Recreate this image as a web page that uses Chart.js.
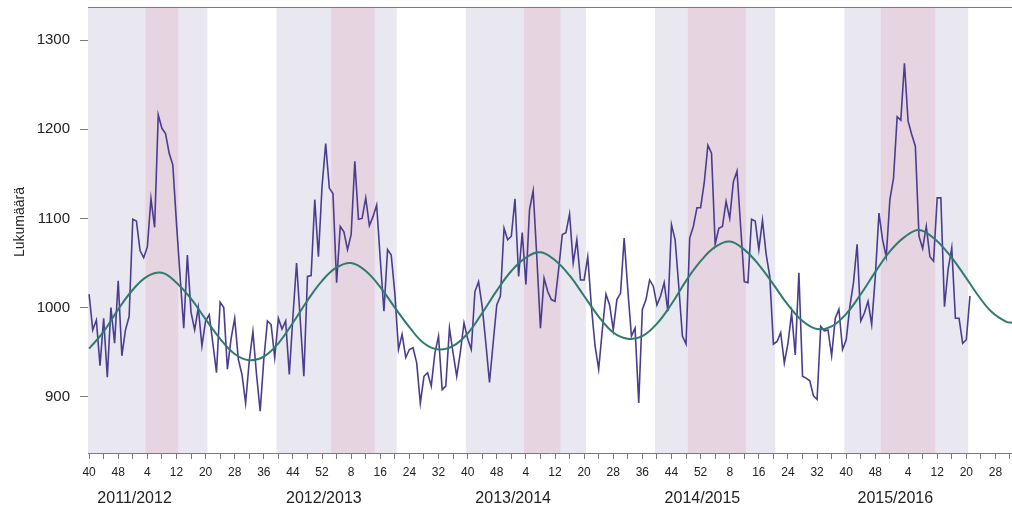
<!DOCTYPE html>
<html>
<head>
<meta charset="utf-8">
<script src="https://cdn.jsdelivr.net/npm/chart.js@4/dist/chart.umd.min.js"></script>
<style>
  html, body { margin: 0; padding: 0; background: #ffffff; }
  #wrap { width: 1012px; height: 513px; }
</style>
</head>
<body>
<div id="wrap"><canvas id="chart" width="1012" height="513"></canvas></div>
<script>
// Weekly death counts, one array per season (week 40 to week 39 of the next year)
const deaths2011_12 = [1015, 975, 986, 935, 988, 922, 1000, 960, 1030, 946, 975, 990, 1099, 1097, 1064, 1056,
  1068, 1122, 1090, 1216, 1201, 1195, 1173, 1160, 1095, 1035, 977, 1059, 995, 975, 1000, 957, 985, 992, 960,
  927, 1006, 1000, 931, 965, 988, 942, 925, 893, 940, 973, 925, 884, 942, 985, 981, 944];
const deaths2012_13 = [988, 976, 985, 925, 990, 1050, 987, 923, 1035, 1036, 1121, 1057, 1136, 1184, 1134, 1128,
  1028, 1091, 1085, 1065, 1082, 1164, 1099, 1100, 1123, 1092, 1102, 1115, 1054, 996, 1065, 1059, 1016, 953, 970,
  944, 953, 955, 938, 893, 923, 927, 912, 949, 968, 908, 912, 977, 949, 923, 950, 983];
const deaths2013_14 = [965, 953, 1018, 1029, 1001, 960, 916, 960, 1003, 1013, 1089, 1076, 1080, 1122, 1035, 1084,
  1026, 1110, 1131, 1057, 977, 1033, 1018, 1009, 1007, 1043, 1082, 1084, 1105, 1050, 1076, 1031, 1031, 1057, 1001,
  957, 931, 975, 1015, 1003, 975, 1009, 1016, 1078, 1020, 968, 977, 893, 998, 1009, 1031, 1024];
const deaths2014_15 = [1003, 1013, 1028, 996, 1093, 1076, 1024, 968, 959, 1078, 1091, 1112, 1112, 1140, 1182, 1173,
  1071, 1089, 1091, 1119, 1100, 1141, 1153, 1091, 1029, 1028, 1099, 1097, 1065, 1098, 1060, 1035, 959, 962, 972,
  938, 960, 994, 947, 1039, 923, 921, 918, 901, 897, 979, 974, 975, 946, 988, 998, 953];
const deaths2015_16 = [964, 1001, 1028, 1071, 985, 994, 1007, 981, 1035, 1106, 1076, 1057, 1121, 1145, 1214, 1210,
  1274, 1209, 1194, 1181, 1080, 1066, 1091, 1057, 1052, 1123, 1123, 1001, 1043, 1067, 988, 988, 960, 964, 1013];

// Expected level (seasonal model), read every four weeks from the start of the series
const expectedWeek = [0, 4, 8, 12, 16, 20, 24, 28, 32, 36, 40, 44, 48, 52, 56, 60, 64, 68, 72, 76, 80, 84, 88, 92,
  96, 100, 104, 108, 112, 116, 120, 124, 128, 132, 136, 140, 144, 148, 152, 156, 160, 164, 168, 172, 176, 180,
  184, 188, 192, 196, 200, 204, 208, 212, 216, 220, 224, 228, 232, 236, 240, 244, 248, 252, 253.6];
const expectedValue = [954, 973, 998, 1020, 1035, 1039, 1028, 1010, 987, 965, 948, 941, 945, 960, 983, 1008, 1030,
  1045, 1050, 1041, 1023, 1000, 978, 960, 953, 957, 971, 994, 1019, 1041, 1056, 1062, 1053, 1036, 1013, 990, 972,
  965, 968, 982, 1004, 1030, 1052, 1068, 1074, 1065, 1048, 1026, 1003, 985, 976, 979, 993, 1015, 1040, 1063, 1079,
  1087, 1078, 1061, 1039, 1015, 995, 984, 983];

const seasonLabels = ['2011/2012', '2012/2013', '2013/2014', '2014/2015', '2015/2016'];
// Epidemic periods per season: [year, week] start and end
const epidemicPeriods = [
  [[2012, 4], [2012, 12]],
  [[2013, 3], [2013, 14]],
  [[2014, 4], [2014, 13]],
  [[2014, 49], [2015, 12]],
  [[2015, 50], [2016, 11]]
];
const seasonStartWeek = 40;
const seasonEndWeek = 20;
const yTickValues = [900, 1000, 1100, 1200, 1300];

const firstYear = 2011;
const firstWeek = 40;
const weeksInYear = { 2011: 52, 2012: 52, 2013: 52, 2014: 52, 2015: 53, 2016: 52, 2017: 52 };

function weekIndex(year, week) {
  let i = 0;
  for (let y = firstYear; y < year; y++) i += weeksInYear[y];
  return i + week - firstWeek;
}
function weekNumber(index) {
  let year = firstYear, week = firstWeek + index;
  while (week > weeksInYear[year]) { week -= weeksInYear[year]; year++; }
  return week;
}

const deaths = [].concat(deaths2011_12, deaths2012_13, deaths2013_14, deaths2014_15, deaths2015_16);
const deathPoints = deaths.map((v, i) => ({ x: i, y: v }));
const expectedPoints = expectedWeek.map((w, i) => ({ x: w, y: expectedValue[i] }));

const X_MIN = -0.3, X_MAX = 253.55;
const tickIndices = [];
for (let i = 0; i <= Math.floor(X_MAX); i++) if (weekNumber(i) % 4 === 0) tickIndices.push(i);

const FONT = "'Liberation Sans', Arial, Helvetica, sans-serif";
const FRAME = '#7a7a7a';

// Shaded season and epidemic periods behind the lines, plus season names under the axis
const bandsPlugin = {
  id: 'bands',
  beforeDatasetsDraw(chart) {
    const { ctx, chartArea: a, scales: { x } } = chart;
    ctx.save();
    ctx.beginPath();
    ctx.rect(a.left, a.top, a.right - a.left, a.bottom - a.top);
    ctx.clip();
    seasonLabels.forEach((_, k) => {
      const y0 = firstYear + k;
      const s = x.getPixelForValue(weekIndex(y0, seasonStartWeek) - 0.5);
      const e = x.getPixelForValue(weekIndex(y0 + 1, seasonEndWeek) + 0.5);
      ctx.fillStyle = '#e9e8f1';
      ctx.fillRect(s, a.top, e - s, a.bottom - a.top);
    });
    epidemicPeriods.forEach(([from, to]) => {
      const s = x.getPixelForValue(weekIndex(from[0], from[1]) - 0.5);
      const e = x.getPixelForValue(weekIndex(to[0], to[1]) + 0.5);
      ctx.fillStyle = '#e7d4e1';
      ctx.fillRect(s, a.top, e - s, a.bottom - a.top);
    });
    ctx.restore();
  },
  afterDraw(chart) {
    const { ctx, chartArea: a, scales: { x } } = chart;
    ctx.save();
    ctx.strokeStyle = FRAME;
    ctx.lineWidth = 1;
    ctx.beginPath();
    ctx.moveTo(a.left, a.top + 0.5);
    ctx.lineTo(a.right, a.top + 0.5);
    ctx.stroke();
    ctx.fillStyle = '#222';
    ctx.font = '16px ' + FONT;
    ctx.textAlign = 'center';
    ctx.textBaseline = 'middle';
    seasonLabels.forEach((label, k) => {
      const cx = x.getPixelForValue(weekIndex(firstYear + k + 1, 1) - 0.5);
      ctx.fillText(label, cx, 499);
    });
    ctx.translate(20, 222);
    ctx.rotate(-Math.PI / 2);
    ctx.font = '14px ' + FONT;
    ctx.fillText('Lukumäärä', 0, 0);
    ctx.restore();
  }
};

new Chart(document.getElementById('chart'), {
  type: 'line',
  data: {
    datasets: [
      {
        label: 'Odotettu',
        data: expectedPoints,
        borderColor: '#2f7b70',
        borderWidth: 2,
        pointRadius: 0,
        tension: 0.4,
        fill: false
      },
      {
        label: 'Kuolleet',
        data: deathPoints,
        borderColor: '#4a3d8f',
        borderWidth: 1.6,
        pointRadius: 0,
        tension: 0,
        fill: false
      }
    ]
  },
  options: {
    responsive: false,
    animation: false,
    devicePixelRatio: 1,
    layout: { padding: { top: 7, right: 0, bottom: 0, left: 0 } },
    plugins: { legend: { display: false }, tooltip: { enabled: false } },
    scales: {
      x: {
        type: 'linear',
        min: X_MIN,
        max: X_MAX,
        afterFit(scale) {
          scale.height = 60;
          scale.paddingLeft = 0;
          scale.paddingRight = 0;
        },
        afterBuildTicks(scale) { scale.ticks = tickIndices.map(v => ({ value: v })); },
        grid: { drawOnChartArea: false, drawTicks: true, tickLength: 6, color: FRAME },
        border: { display: true, color: FRAME },
        ticks: {
          autoSkip: false,
          maxRotation: 0,
          padding: 6,
          color: '#222',
          font: { family: FONT, size: 12 },
          callback(value, index) { return index % 2 === 0 ? String(weekNumber(value)) : ''; }
        }
      },
      y: {
        type: 'linear',
        min: 837,
        max: 1337,
        afterFit(scale) {
          scale.width = 88;
          scale.paddingTop = 0;
          scale.paddingBottom = 0;
        },
        afterBuildTicks(scale) { scale.ticks = yTickValues.map(v => ({ value: v })); },
        grid: { drawOnChartArea: false, drawTicks: true, tickLength: 8, color: FRAME },
        border: { display: true, color: FRAME },
        ticks: {
          padding: 10,
          color: '#222',
          font: { family: FONT, size: 15 },
          callback(value) { return String(value); }
        }
      }
    }
  },
  plugins: [bandsPlugin]
});
</script>
</body>
</html>
